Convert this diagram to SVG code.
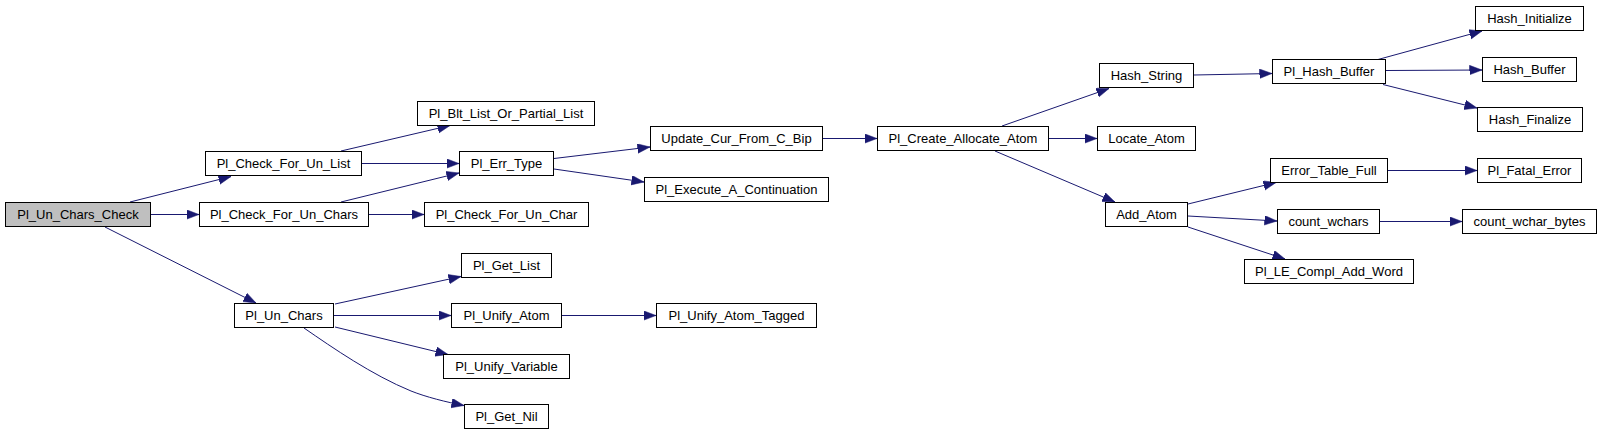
<svg xmlns="http://www.w3.org/2000/svg" width="1603" height="436" viewBox="0 0 1603 436">
<defs>
<marker id="ah" markerUnits="userSpaceOnUse" markerWidth="14" markerHeight="11" refX="12.5" refY="4.75" orient="auto">
<path d="M0,0 L12.5,4.75 L0,9.5 z" fill="#191970" stroke="#191970" stroke-width="0.5"/>
</marker>
<style>
.n rect{fill:#ffffff;stroke:#000000;stroke-width:1}
.n.root rect{fill:#bfbfbf}
.n text{font-family:"Liberation Sans",Arial,sans-serif;font-size:13px;fill:#000000;text-anchor:middle}
#edges path{fill:none;stroke:#191970;stroke-width:1;marker-end:url(#ah)}
</style>
</defs>
<rect width="1603" height="436" fill="#ffffff"/>
<g id="edges">
<path d="M130,202 L231,176.5"/>
<path d="M151,214.5 L199,214.5"/>
<path d="M105,227 L256,303"/>
<path d="M341,151 L450,125.5"/>
<path d="M362,163.5 L459,163.5"/>
<path d="M341,202 L459,173"/>
<path d="M369,214.5 L424,214.5"/>
<path d="M554,158.5 L650,147"/>
<path d="M554,169 L644,182"/>
<path d="M823,138.5 L877,138.5"/>
<path d="M1002,126 L1109,88.5"/>
<path d="M1049,138.5 L1097,138.5"/>
<path d="M995,151 L1115,202"/>
<path d="M1194,75 L1272,73.5"/>
<path d="M1378,59.5 L1482,31"/>
<path d="M1386,70.5 L1482,70"/>
<path d="M1383,84.5 L1477,108"/>
<path d="M1188,204 L1276,182.5"/>
<path d="M1188,216 L1277,221"/>
<path d="M1188,227 L1285,259"/>
<path d="M1388,170.5 L1477,170.5"/>
<path d="M1380,221.5 L1462,221.5"/>
<path d="M335,304 L461,276.5"/>
<path d="M334,315.5 L451,315.5"/>
<path d="M335,327 L448,354.5"/>
<path d="M304,328 C333,348 372,375 411,391 C426,397 446,402 464,405.5"/>
<path d="M562,315.5 L656,315.5"/>
</g>
<g id="n_root" class="n root"><rect x="5.5" y="202.5" width="145" height="24"/><text x="78" y="219">Pl_Un_Chars_Check</text></g>
<g id="n_check_list" class="n"><rect x="205.5" y="151.5" width="156" height="24"/><text x="283.5" y="168">Pl_Check_For_Un_List</text></g>
<g id="n_check_chars" class="n"><rect x="199.5" y="202.5" width="169" height="24"/><text x="284" y="219">Pl_Check_For_Un_Chars</text></g>
<g id="n_un_chars" class="n"><rect x="234.5" y="303.5" width="99" height="24"/><text x="284" y="320">Pl_Un_Chars</text></g>
<g id="n_blt_list" class="n"><rect x="417.5" y="101.5" width="177" height="24"/><text x="506" y="118">Pl_Blt_List_Or_Partial_List</text></g>
<g id="n_err_type" class="n"><rect x="459.5" y="151.5" width="94" height="24"/><text x="506.5" y="168">Pl_Err_Type</text></g>
<g id="n_check_char" class="n"><rect x="424.5" y="202.5" width="164" height="24"/><text x="506.5" y="219">Pl_Check_For_Un_Char</text></g>
<g id="n_get_list" class="n"><rect x="461.5" y="253.5" width="90" height="24"/><text x="506.5" y="270">Pl_Get_List</text></g>
<g id="n_unify_atom" class="n"><rect x="451.5" y="303.5" width="110" height="24"/><text x="506.5" y="320">Pl_Unify_Atom</text></g>
<g id="n_unify_var" class="n"><rect x="443.5" y="354.5" width="126" height="24"/><text x="506.5" y="371">Pl_Unify_Variable</text></g>
<g id="n_get_nil" class="n"><rect x="464.5" y="404.5" width="84" height="24"/><text x="506.5" y="421">Pl_Get_Nil</text></g>
<g id="n_update_cur" class="n"><rect x="650.5" y="126.5" width="172" height="24"/><text x="736.5" y="143">Update_Cur_From_C_Bip</text></g>
<g id="n_exec_cont" class="n"><rect x="644.5" y="177.5" width="184" height="24"/><text x="736.5" y="194">Pl_Execute_A_Continuation</text></g>
<g id="n_unify_tagged" class="n"><rect x="656.5" y="303.5" width="160" height="24"/><text x="736.5" y="320">Pl_Unify_Atom_Tagged</text></g>
<g id="n_create_atom" class="n"><rect x="877.5" y="126.5" width="171" height="24"/><text x="963" y="143">Pl_Create_Allocate_Atom</text></g>
<g id="n_hash_string" class="n"><rect x="1099.5" y="63.5" width="94" height="24"/><text x="1146.5" y="80">Hash_String</text></g>
<g id="n_locate_atom" class="n"><rect x="1097.5" y="126.5" width="98" height="24"/><text x="1146.5" y="143">Locate_Atom</text></g>
<g id="n_add_atom" class="n"><rect x="1105.5" y="202.5" width="82" height="24"/><text x="1146.5" y="219">Add_Atom</text></g>
<g id="n_hash_buffer_pl" class="n"><rect x="1272.5" y="59.5" width="113" height="24"/><text x="1329" y="76">Pl_Hash_Buffer</text></g>
<g id="n_hash_init" class="n"><rect x="1475.5" y="6.5" width="108" height="24"/><text x="1529.5" y="23">Hash_Initialize</text></g>
<g id="n_hash_buffer" class="n"><rect x="1482.5" y="57.5" width="94" height="24"/><text x="1529.5" y="74">Hash_Buffer</text></g>
<g id="n_hash_final" class="n"><rect x="1477.5" y="107.5" width="105" height="24"/><text x="1530" y="124">Hash_Finalize</text></g>
<g id="n_err_table" class="n"><rect x="1270.5" y="158.5" width="117" height="24"/><text x="1329" y="175">Error_Table_Full</text></g>
<g id="n_fatal" class="n"><rect x="1477.5" y="158.5" width="104" height="24"/><text x="1529.5" y="175">Pl_Fatal_Error</text></g>
<g id="n_count_wchars" class="n"><rect x="1277.5" y="209.5" width="102" height="24"/><text x="1328.5" y="226">count_wchars</text></g>
<g id="n_count_bytes" class="n"><rect x="1462.5" y="209.5" width="134" height="24"/><text x="1529.5" y="226">count_wchar_bytes</text></g>
<g id="n_le_compl" class="n"><rect x="1244.5" y="259.5" width="169" height="24"/><text x="1329" y="276">Pl_LE_Compl_Add_Word</text></g>
</svg>
